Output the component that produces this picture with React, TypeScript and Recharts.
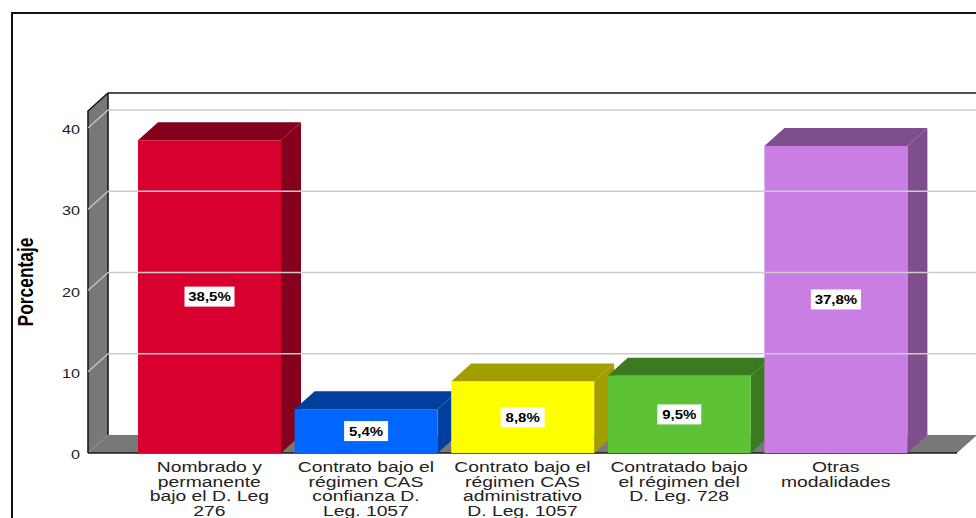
import { BarChart, Bar, XAxis, YAxis, ReferenceArea, ReferenceLine, LabelList } from "recharts";

const categories = [
  "Nombrado y permanente bajo el D. Leg 276",
  "Contrato bajo el régimen CAS confianza D. Leg. 1057",
  "Contrato bajo el régimen CAS administrativo D. Leg. 1057",
  "Contratado bajo el régimen del D. Leg. 728",
  "Otras modalidades",
];
const categoryLines = [
  ["Nombrado y", "permanente", "bajo el D. Leg", "276"],
  ["Contrato bajo el", "régimen CAS", "confianza D.", "Leg. 1057"],
  ["Contrato bajo el", "régimen CAS", "administrativo", "D. Leg. 1057"],
  ["Contratado bajo", "el régimen del", "D. Leg. 728"],
  ["Otras", "modalidades"],
];
const percentages = [38.5, 5.4, 8.8, 9.5, 37.8];
const frontColors = ["#d7002e", "#0066ff", "#ffff00", "#5dc236", "#c97ee4"];
const sideColors = ["#84001c", "#003f9e", "#a39e00", "#3c7a22", "#7e4f8c"];
const yTicks = [0, 10, 20, 30, 40];
const gridValues = [10, 20, 30, 40];

const data = categories.map((name, i) => ({ name, value: percentages[i] }));

const WIDTH = 976;
const HEIGHT = 518;
// depth of the fake 3D projection
const DX = 20;
const DY = -18;
// empty room left and right of the first and last bar
const PAD = 43;
const WALL = "#787878";
const EDGE = "#1a1a1a";
const FONT = "'Liberation Sans', Arial, sans-serif";

function Walls({ x, y, width, height }: any) {
  const left = x - PAD;
  const right = x + width + PAD;
  const bottom = y + height;
  const backX = left + DX;
  return (
    <g>
      <polygon points={`${left},${y} ${backX},${y + DY} ${backX},${bottom + DY} ${left},${bottom}`} fill={WALL} />
      <polygon
        points={`${left},${bottom} ${backX},${bottom + DY} ${right + DX},${bottom + DY} ${right},${bottom}`}
        fill={WALL}
      />
      <polyline
        points={`${left},${bottom} ${left},${y} ${backX},${y + DY} ${WIDTH},${y + DY}`}
        fill="none"
        stroke={EDGE}
        strokeWidth={1.6}
      />
      <line x1={backX} y1={y + DY} x2={backX} y2={bottom + DY} stroke={EDGE} strokeWidth={1.6} />
      <line x1={left} y1={bottom} x2={right} y2={bottom} stroke={EDGE} strokeWidth={1.6} />
    </g>
  );
}

function GridLine({ x1, y1, y2 }: any) {
  return (
    <g>
      <line x1={x1} y1={y1} x2={x1 + DX} y2={y2 + DY} stroke="#c8c8c8" strokeWidth={1.3} />
      <line x1={x1 + DX} y1={y2 + DY} x2={WIDTH} y2={y2 + DY} stroke="#cccccc" strokeWidth={1.5} />
    </g>
  );
}

function Box({ x, y, width, height, index }: any) {
  const r = x + width;
  const b = y + height;
  const side = sideColors[index];
  return (
    <g>
      <polygon points={`${x},${y} ${x + DX},${y + DY} ${r + DX},${y + DY} ${r},${y}`} fill={side} />
      <polygon points={`${r},${y} ${r + DX},${y + DY} ${r + DX},${b + DY} ${r},${b}`} fill={side} />
      <rect x={x} y={y} width={width} height={height} fill={frontColors[index]} />
    </g>
  );
}

function ValueTag({ x, y, width, height, value }: any) {
  const cx = x + width / 2;
  const cy = y + height / 2;
  const text = `${Number(value).toFixed(1).replace(".", ",")}%`;
  const boxW = text.length > 4 ? 50 : 44;
  return (
    <g>
      <rect x={cx - boxW / 2} y={cy - 10} width={boxW} height={20} fill="#ffffff" />
      <text
        transform={`translate(${cx},${cy + 4.5}) scale(1.25,1)`}
        textAnchor="middle"
        fontFamily={FONT}
        fontWeight="bold"
        fontSize={12}
        fill="#000000"
      >
        {text}
      </text>
    </g>
  );
}

function CategoryTick({ x, y, payload }: any) {
  const lines = categoryLines[payload.index] ?? [];
  return (
    <g>
      {lines.map((line, i) => (
        <text
          key={line}
          transform={`translate(${x},${y + 13 + i * 14.5}) scale(1.38,1)`}
          textAnchor="middle"
          fontFamily={FONT}
          fontSize={14}
          fill="#222222"
        >
          {line}
        </text>
      ))}
    </g>
  );
}

function ValueTick({ x, y, payload }: any) {
  return (
    <text
      transform={`translate(${x},${y + 6}) scale(1.35,1)`}
      textAnchor="end"
      fontFamily={FONT}
      fontSize={12}
      fill="#222222"
    >
      {payload.value}
    </text>
  );
}

function AxisTitle() {
  return (
    <text
      transform="translate(33,282) rotate(-90) scale(0.87,1.1)"
      textAnchor="middle"
      fontFamily={FONT}
      fontWeight="bold"
      fontSize={20}
      fill="#000000"
    >
      Porcentaje
    </text>
  );
}

export default function App() {
  return (
    <div style={{ position: "absolute", left: 0, top: 0, width: WIDTH, height: HEIGHT, overflow: "hidden", background: "#fff" }}>
      <div style={{ position: "absolute", left: 11, top: 12, width: 1100, height: 700, border: "2px solid #111" }} />
      <BarChart
        width={WIDTH}
        height={HEIGHT}
        data={data}
        margin={{ top: 111, right: 19, bottom: 0, left: 0 }}
        style={{ position: "absolute", left: 0, top: 0 }}
      >
        <XAxis
          dataKey="name"
          height={65}
          interval={0}
          axisLine={false}
          tickLine={false}
          tickMargin={0}
          padding={{ left: PAD, right: PAD }}
          tick={<CategoryTick />}
        />
        <YAxis
          width={88}
          domain={[0, 42.1]}
          ticks={yTicks}
          axisLine={false}
          tickLine={false}
          tickMargin={2}
          tick={<ValueTick />}
          label={<AxisTitle />}
        />
        <ReferenceArea y1={0} y2={42.1} shape={<Walls />} />
        {gridValues.map((v) => (
          <ReferenceLine key={v} y={v} shape={<GridLine />} />
        ))}
        <Bar dataKey="value" barSize={143} isAnimationActive={false} shape={<Box />}>
          <LabelList dataKey="value" content={<ValueTag />} />
        </Bar>
      </BarChart>
    </div>
  );
}
